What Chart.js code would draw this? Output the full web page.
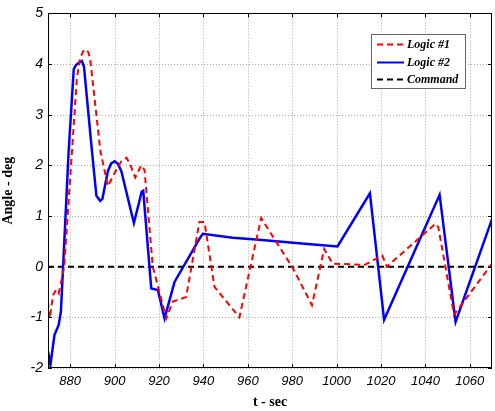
<!DOCTYPE html>
<html>
<head>
<meta charset="utf-8">
<script src="https://cdn.jsdelivr.net/npm/chart.js@4.4.1/dist/chart.umd.min.js"></script>
<style>
  html, body { margin: 0; padding: 0; background: #fff; }
  #wrap { width: 495px; height: 411px; }
</style>
</head>
<body>
<div id="wrap"><canvas id="c" width="495" height="411"></canvas></div>
<script>
// Time samples (s) and angle (deg) for each controller
const logic1T = [870, 870.8, 872.3, 873.6, 874.8, 875.8, 877.3, 880.8, 883, 884.5, 885.8, 887, 888.2, 889, 893.6, 897, 900, 903, 905.3, 906.7, 909.3, 912, 912.7, 913.5, 917.2, 923.3, 926.2, 932.2, 938.2, 940.5, 945, 956.2, 966, 980.2, 988.9, 994.4, 998.2, 1010.2, 1012.4, 1020.6, 1022.6, 1044.6, 1045.8, 1052.9, 1070];
const logic1Angle = [-0.69, -1.02, -0.56, -0.46, -0.53, -0.33, 0, 2.28, 3.72, 4.12, 4.25, 4.29, 4.23, 4.1, 2.28, 1.59, 1.85, 2.08, 2.15, 2.05, 1.76, 2.0, 1.97, 1.9, 0, -1.02, -0.69, -0.6, 0.88, 0.88, -0.4, -1.0, 0.96, -0.02, -0.76, 0.35, 0.06, 0.04, 0.03, 0.22, 0.0, 0.85, 0.78, -0.95, 0.06];

const logic2T = [870, 871.1, 872.9, 874.8, 875.8, 876.8, 879.3, 881.6, 882.6, 884, 885.3, 886.2, 889.8, 891.8, 893.5, 894.5, 897, 898.5, 900, 901.5, 903, 908.7, 912.2, 912.9, 916.5, 919.5, 922.5, 927, 938.2, 939.7, 953.2, 963.7, 986.9, 1000.4, 1015, 1021.4, 1046.4, 1053.6, 1070];
const logic2Angle = [-1.67, -1.94, -1.35, -1.15, -0.89, 0, 2.28, 3.9, 3.98, 4.03, 4.06, 3.95, 2.28, 1.40, 1.30, 1.34, 1.89, 2.04, 2.08, 2.03, 1.89, 0.86, 1.48, 1.5, -0.43, -0.46, -1.02, -0.30, 0.55, 0.65, 0.57, 0.535, 0.45, 0.40, 1.45, -1.05, 1.42, -1.09, 0.94];

const commandT = [870, 1070];
const commandAngle = [0, 0];

const xTicks = [880, 900, 920, 940, 960, 980, 1000, 1020, 1040, 1060];
const yTicks = [-2, -1, 0, 1, 2, 3, 4, 5];

const seriesNames = ['Logic #1', 'Logic #2', 'Command'];

const pts = (t, a) => t.map((v, i) => ({ x: v, y: a[i] }));

// Dotted grid under the curves
const gridPlugin = {
  id: 'dottedGrid',
  beforeDatasetsDraw(chart) {
    const { ctx, chartArea: ca, scales } = chart;
    ctx.save();
    ctx.strokeStyle = '#a8a8a8';
    ctx.lineWidth = 1;
    ctx.setLineDash([1, 2]);
    ctx.beginPath();
    xTicks.forEach(v => {
      const px = Math.round(scales.x.getPixelForValue(v)) + 0.5;
      ctx.moveTo(px, ca.top); ctx.lineTo(px, ca.bottom);
    });
    yTicks.forEach(v => {
      const py = Math.round(scales.y.getPixelForValue(v)) + 0.5;
      ctx.moveTo(ca.left, py); ctx.lineTo(ca.right, py);
    });
    ctx.stroke();
    ctx.restore();
  }
};

// Frame, inward tick marks and the boxed legend in the upper right
const framePlugin = {
  id: 'frame',
  afterDraw(chart) {
    const { ctx, chartArea: ca, scales } = chart;
    ctx.save();
    ctx.strokeStyle = '#000';
    ctx.lineWidth = 1;
    ctx.setLineDash([]);
    ctx.strokeRect(Math.round(ca.left) + 0.5, Math.round(ca.top) + 0.5,
                   Math.round(ca.right - ca.left) - 1, Math.round(ca.bottom - ca.top) - 1);
    ctx.beginPath();
    xTicks.forEach(v => {
      const px = Math.round(scales.x.getPixelForValue(v)) + 0.5;
      ctx.moveTo(px, ca.bottom); ctx.lineTo(px, ca.bottom - 4);
      ctx.moveTo(px, ca.top); ctx.lineTo(px, ca.top + 4);
    });
    yTicks.forEach(v => {
      const py = Math.round(scales.y.getPixelForValue(v)) + 0.5;
      ctx.moveTo(ca.left, py); ctx.lineTo(ca.left + 4, py);
      ctx.moveTo(ca.right, py); ctx.lineTo(ca.right - 4, py);
    });
    ctx.stroke();

    // legend
    const lx = 371, ly = 34, lw = 94, lh = 54;
    ctx.fillStyle = '#fff';
    ctx.fillRect(lx, ly, lw, lh);
    ctx.strokeStyle = '#666';
    ctx.strokeRect(lx + 0.5, ly + 0.5, lw, lh);
    ctx.font = 'italic bold 12px "Liberation Serif", "Times New Roman", serif';
    ctx.textBaseline = 'middle';
    chart.data.datasets.forEach((ds, i) => {
      const y = ly + 10 + i * 17.5;
      ctx.strokeStyle = ds.borderColor;
      ctx.lineWidth = 2;
      ctx.setLineDash(ds.borderDash || []);
      ctx.beginPath();
      ctx.moveTo(lx + 6, Math.round(y) + 0.5); ctx.lineTo(lx + 33, Math.round(y) + 0.5);
      ctx.stroke();
      ctx.setLineDash([]);
      ctx.fillStyle = '#000';
      ctx.fillText(ds.label, lx + 36, y + 1);
    });
    ctx.restore();
  }
};

new Chart(document.getElementById('c'), {
  type: 'line',
  data: {
    datasets: [
      { label: seriesNames[0], data: pts(logic1T, logic1Angle), borderColor: '#ff0000', borderWidth: 2, borderDash: [6, 4], pointRadius: 0, tension: 0 },
      { label: seriesNames[1], data: pts(logic2T, logic2Angle), borderColor: '#0000ff', borderWidth: 2.5, pointRadius: 0, tension: 0 },
      { label: seriesNames[2], data: pts(commandT, commandAngle), borderColor: '#000000', borderWidth: 2, borderDash: [6, 4], pointRadius: 0, tension: 0 }
    ]
  },
  options: {
    responsive: false,
    animation: false,
    events: [],
    layout: { padding: { top: 11, right: 3, left: 0, bottom: 0 } },
    plugins: { legend: { display: false }, tooltip: { enabled: false } },
    scales: {
      x: {
        type: 'linear', min: 870, max: 1070,
        afterBuildTicks: s => { s.ticks = xTicks.map(v => ({ value: v })); },
        afterFit: s => { s.height = 43; },
        grid: { display: false, drawTicks: false },
        border: { display: false },
        ticks: { color: '#000', padding: 6, maxRotation: 0, autoSkip: false,
                 callback: v => String(v),
                 font: { family: 'Arial, "Liberation Sans", sans-serif', size: 13, style: 'italic' } },
        title: { display: true, text: 't - sec', color: '#000', padding: { top: 1, bottom: 0 },
                 font: { family: '"Liberation Serif", "Times New Roman", serif', size: 14, weight: 'bold' } }
      },
      y: {
        type: 'linear', min: -2, max: 5,
        afterBuildTicks: s => { s.ticks = yTicks.map(v => ({ value: v })); },
        afterFit: s => { s.width = 48; },
        grid: { display: false, drawTicks: false },
        border: { display: false },
        ticks: { color: '#000', padding: 5,
                 callback: v => String(v),
                 font: { family: 'Arial, "Liberation Sans", sans-serif', size: 14, style: 'italic' } },
        title: { display: true, text: 'Angle - deg', color: '#000', padding: { top: 0, bottom: 2 },
                 font: { family: '"Liberation Serif", "Times New Roman", serif', size: 14, weight: 'bold' } }
      }
    }
  },
  plugins: [gridPlugin, framePlugin]
});
</script>
</body>
</html>
